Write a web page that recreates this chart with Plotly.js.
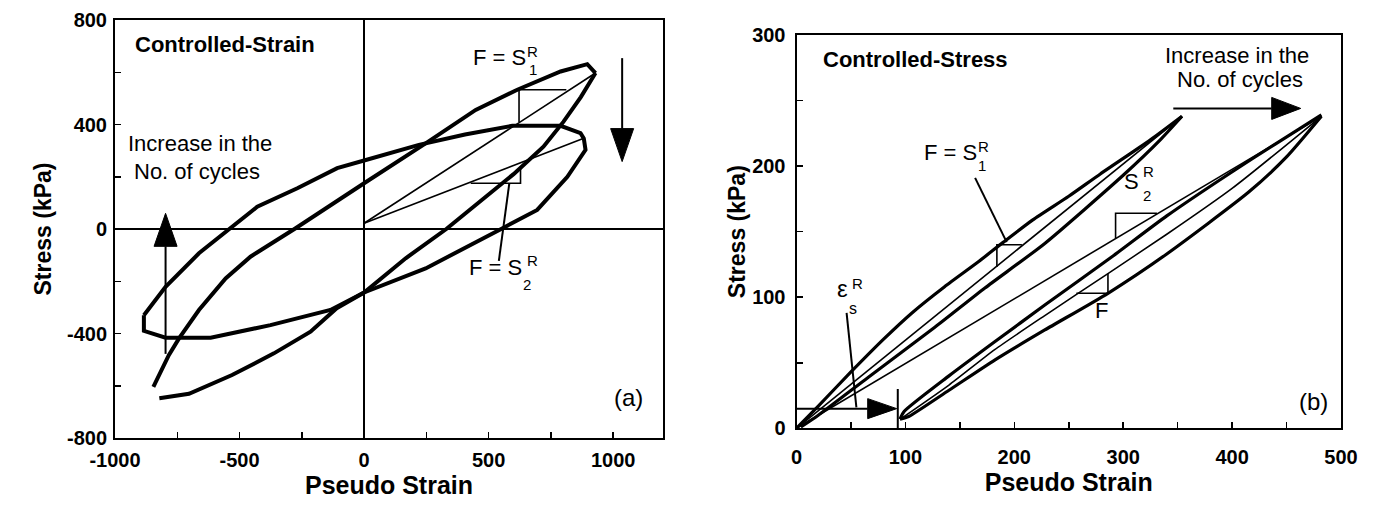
<!DOCTYPE html>
<html>
<head>
<meta charset="utf-8">
<script src="https://cdn.plot.ly/plotly-3.0.1.min.js"></script>
<style>
  html, body { margin: 0; padding: 0; background: #fff; }
  #chart { width: 1373px; height: 517px; }
</style>
</head>
<body>
<div id="chart"></div>
<script>
const W = 1373, H = 517;
const FONT = 'Liberation Sans, Arial, Helvetica, sans-serif';

// ---------- panel (a): controlled-strain loops ----------
const strainTicks = [-1000, -500, 0, 500, 1000];
const strainTickText = ['-1000', '-500', '0', '500', '1000'];
const stressTicksA = [-800, -400, 0, 400, 800];
const stressTickTextA = ['-800', '-400', '0', '400', '800'];

// first cycle: loading branch and unloading branch
const cycleA_loadX   = [-846, -784, -743, -663, -556, -456, -275, -108, 0, 247, 448, 615, 789, 896, 929];
const cycleA_loadY   = [-604, -483, -419, -310, -189, -106, 3, 105, 175, 328, 456, 533, 603, 631, 597];
const cycleA_unloadX = [929, 870, 800, 720, 600, 450, 330, 167, 0, -110, -215, -362, -530, -703, -822];
const cycleA_unloadY = [597, 505, 410, 315, 210, 95, 0, -112, -243, -303, -393, -476, -559, -631, -648];

// later cycle: closed loop
const cycleB_X = [-884, -797, -663, -523, -429, -268, -108, 0, 220, 405, 595, 789, 869, 882, 889,
                  816, 695, 560, 428, 247, 0, -135, -376, -616, -797, -884, -884];
const cycleB_Y = [-330, -221, -93, 15, 85, 156, 233, 262, 322, 362, 395, 395, 367, 347, 303,
                  200, 73, 5, -62, -151, -243, -310, -368, -416, -416, -390, -330];

// secant stiffness lines from the origin to each peak
const secantA_X = [0, 929], secantA_Y = [22, 597];
const secantB_X = [0, 882], secantB_Y = [22, 347];

// slope triangles and leader
const slopeS1_X = [812, 622, 622], slopeS1_Y = [533, 533, 410];
const slopeS2_X = [428, 628, 628], slopeS2_Y = [175, 175, 240];
const leaderS2_X = [583, 541], leaderS2_Y = [175, -122];

// "increase in the no. of cycles" arrows
const arrowUpTail = [-797, -478], arrowUpTip = [-797, 60];
const arrowDownTail = [1036, 654], arrowDownTip = [1036, 258];

// ---------- panel (b): controlled-stress loops ----------
const pseudoTicksB = [0, 100, 200, 300, 400, 500];
const stressTicksB = [0, 100, 200, 300];

const loop1_loadX   = [0, 20, 50, 80, 106, 136, 167, 190, 217, 250, 279, 325, 354];
const loop1_loadY   = [0, 17, 43, 68, 88, 108, 127, 142, 159, 177, 194, 220, 238];
const loop1_unloadX = [354, 334, 300, 228, 173, 127, 66, 20, 4];
const loop1_unloadY = [238, 220, 193, 141, 107, 77, 39, 10, 1];

const loop2_loadX   = [95, 99, 140, 182, 228, 290, 340, 397, 440, 482];
const loop2_loadY   = [7, 13, 40, 66, 94, 131, 162, 194, 217, 239];
const loop2_innerX  = [97, 140, 182, 228, 286, 340, 400, 482];
const loop2_innerY  = [8, 33, 60, 86, 118, 148, 183, 238];
const loop2_unloadX = [95, 103, 140, 182, 228, 286, 340, 415, 450, 482];
const loop2_unloadY = [7, 9, 29, 52, 75, 103, 133, 180, 207, 238];

const secant1_X = [0, 354], secant1_Y = [0, 238];
const secant2_X = [0, 482], secant2_Y = [0, 238];

const slopeB1_X = [207, 184, 184], slopeB1_Y = [140, 140, 123];
const slopeB2_X = [331, 293, 293], slopeB2_Y = [164, 164, 145];
const slopeBF_X = [257, 286, 286], slopeBF_Y = [103, 103, 118];

const leaderB1_X = [164, 193], leaderB1_Y = [191, 142];
const leaderEps_X = [46, 55], leaderEps_Y = [88, 16];

const residualTail = [0, 15], residualTip = [92, 15];
const residualMarkX = [93, 93], residualMarkY = [0, 30];
const cyclesTail = [346, 244], cyclesTip = [463, 244];

// ---------- geometry ----------
const domA = { x: [115 / W, 663 / W], y: [(H - 438) / H, (H - 20) / H] };
const rngA = { x: [-1000, 1200], y: [-800, 800] };
const domB = { x: [796.5 / W, 1341 / W], y: [(H - 428.3) / H, (H - 35) / H] };
const rngB = { x: [0, 500], y: [0, 300] };

function pxPerUnit(dom, rng, size) { return (dom[1] - dom[0]) * size / (rng[1] - rng[0]); }
const sA = [pxPerUnit(domA.x, rngA.x, W), pxPerUnit(domA.y, rngA.y, H)];
const sB = [pxPerUnit(domB.x, rngB.x, W), pxPerUnit(domB.y, rngB.y, H)];

function path(x, y, width, axes, shape) {
  return {
    type: 'scatter', mode: 'lines', x: x, y: y,
    xaxis: axes[0], yaxis: axes[1],
    line: { color: '#000', width: width, shape: shape || 'linear', smoothing: 0.6 },
    hoverinfo: 'skip', showlegend: false
  };
}

// arrow = shaft up to the head base + filled triangular head (sizes in pixels)
function arrow(tail, tip, len, wid, s, width, axes) {
  const dx = (tip[0] - tail[0]) * s[0], dy = (tip[1] - tail[1]) * s[1];
  const L = Math.hypot(dx, dy), ux = dx / L, uy = dy / L;
  const bx = tip[0] - ux * len / s[0], by = tip[1] - uy * len / s[1];
  const ox = -uy * wid / 2 / s[0], oy = ux * wid / 2 / s[1];
  const shaft = path([tail[0], bx], [tail[1], by], width, axes);
  const head = {
    type: 'scatter', mode: 'lines', fill: 'toself', fillcolor: '#000',
    x: [tip[0], bx + ox, bx - ox, tip[0]], y: [tip[1], by + oy, by - oy, tip[1]],
    xaxis: axes[0], yaxis: axes[1],
    line: { color: '#000', width: 1 }, hoverinfo: 'skip', showlegend: false
  };
  return [shaft, head];
}

const A = ['x', 'y'], B = ['x2', 'y2'];
const thick = 4, thickB = 3.2, thin = 1.6;

const traces = [
  path(cycleA_loadX, cycleA_loadY, thick, A),
  path(cycleA_unloadX, cycleA_unloadY, thick, A),
  path(cycleB_X, cycleB_Y, thick, A),
  path(secantA_X, secantA_Y, thin, A),
  path(secantB_X, secantB_Y, thin, A),
  path(slopeS1_X, slopeS1_Y, thin, A),
  path(slopeS2_X, slopeS2_Y, thin, A),
  path(leaderS2_X, leaderS2_Y, 2, A),
  ...arrow(arrowUpTail, arrowUpTip, 33, 23, sA, 2, A),
  ...arrow(arrowDownTail, arrowDownTip, 33, 23, sA, 2, A),

  path(loop1_loadX, loop1_loadY, thickB, B, 'spline'),
  path(loop1_unloadX, loop1_unloadY, thickB, B, 'spline'),
  path(secant1_X, secant1_Y, thin, B),
  path(loop2_loadX, loop2_loadY, thickB, B, 'spline'),
  path(loop2_innerX, loop2_innerY, thin, B, 'spline'),
  path(loop2_unloadX, loop2_unloadY, thickB, B, 'spline'),
  path(secant2_X, secant2_Y, thin, B),
  path(slopeB1_X, slopeB1_Y, thin, B),
  path(slopeB2_X, slopeB2_Y, thin, B),
  path(slopeBF_X, slopeBF_Y, thin, B),
  path(leaderB1_X, leaderB1_Y, 2, B),
  path(leaderEps_X, leaderEps_Y, 2, B),
  path(residualMarkX, residualMarkY, 2, B),
  ...arrow(residualTail, residualTip, 29, 20, sB, 2, B),
  ...arrow(cyclesTail, cyclesTip, 29, 22, sB, 2, B)
];

// ---------- text ----------
function label(text, x, y, axes, size, opts) {
  return Object.assign({
    text: text, x: x, y: y, xref: axes[0], yref: axes[1], showarrow: false,
    xanchor: 'center', yanchor: 'middle',
    font: { family: FONT, size: size, color: '#000' }
  }, opts || {});
}
const bold = (size) => ({ font: { family: FONT, size: size, color: '#000', weight: 700 } });

const annotations = [
  label('Controlled-Strain', -929, 705, A, 22, Object.assign({ xanchor: 'left' }, bold(22))),
  label('Increase in the', -660, 326, A, 22),
  label('No. of cycles', -672, 222, A, 22),
  label('F = S', 545, 657, A, 22),
  label('R', 675, 678, A, 15),
  label('1', 679, 609, A, 15),
  label('F = S', 528, -149, A, 22),
  label('R', 675, -119, A, 15),
  label('2', 655, -211, A, 15),
  label('(a)', 1060, -646, A, 24),

  label('Controlled-Stress', 22.5, 281, B, 22, Object.assign({ xanchor: 'left' }, bold(22))),
  label('Increase in the', 404.5, 284, B, 22),
  label('No. of cycles', 406.8, 265.7, B, 22),
  label('F = S', 141, 210, B, 22),
  label('R', 171.6, 215, B, 15),
  label('1', 170, 200.8, B, 15),
  label('S', 308, 188, B, 22),
  label('R', 322.8, 195.5, B, 15),
  label('2', 321.9, 177.2, B, 15),
  label('F', 280, 90, B, 22),
  label('ε', 42, 107, B, 24),
  label('R', 56, 110.6, B, 15),
  label('s', 52, 91.5, B, 16),
  label('(b)', 475, 20.4, B, 24)
];

const tickFont = { family: FONT, size: 20, color: '#000', weight: 700 };
const titleFont = (size) => ({ family: FONT, size: size, color: '#000', weight: 700 });
const axisBase = {
  showgrid: false, showline: true, mirror: true, linecolor: '#000', linewidth: 2,
  ticks: 'inside', ticklen: 6, tickwidth: 1.5, tickcolor: '#000',
  tickfont: tickFont, fixedrange: true, tickmode: 'array'
};
const minor = (dtick, tick0) => ({ tickmode: 'linear', tick0: tick0, dtick: dtick, ticks: 'inside', ticklen: 6, tickwidth: 1.5, tickcolor: '#000' });

const layout = {
  width: W, height: H,
  margin: { l: 0, r: 0, t: 0, b: 0 },
  paper_bgcolor: '#fff', plot_bgcolor: '#fff',
  showlegend: false,
  xaxis: Object.assign({}, axisBase, {
    domain: domA.x, range: rngA.x, anchor: 'y',
    tickvals: strainTicks, ticktext: strainTickText, minor: minor(250, -1000),
    ticklabelstandoff: 3,
    zeroline: true, zerolinecolor: '#000', zerolinewidth: 2,
    title: { text: 'Pseudo Strain', font: titleFont(25), standoff: 5 }
  }),
  yaxis: Object.assign({}, axisBase, {
    domain: domA.y, range: rngA.y, anchor: 'x',
    tickvals: stressTicksA, ticktext: stressTickTextA, minor: minor(200, -800),
    ticklabelstandoff: 2,
    zeroline: true, zerolinecolor: '#000', zerolinewidth: 2,
    title: { text: 'Stress (kPa)', font: titleFont(23), standoff: 9 }
  }),
  xaxis2: Object.assign({}, axisBase, {
    domain: domB.x, range: rngB.x, anchor: 'y2',
    tickvals: pseudoTicksB, minor: minor(50, 0), zeroline: false,
    ticklabelstandoff: 10,
    title: { text: 'Pseudo Strain', font: titleFont(25), standoff: 1 }
  }),
  yaxis2: Object.assign({}, axisBase, {
    domain: domB.y, range: rngB.y, anchor: 'x2',
    tickvals: stressTicksB, minor: minor(50, 0), zeroline: false,
    ticklabelstandoff: 5,
    title: { text: 'Stress (kPa)', font: titleFont(23), standoff: 0 }
  }),
  annotations: annotations
};

Plotly.newPlot('chart', traces, layout, { displayModeBar: false, staticPlot: true });
</script>
</body>
</html>
